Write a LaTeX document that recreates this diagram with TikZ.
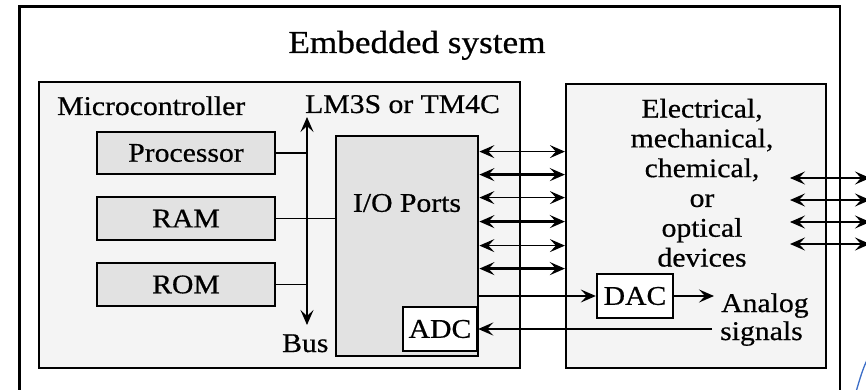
\documentclass[tikz,border=0pt]{standalone}
\usepackage{fontspec}
\setmainfont{Liberation Serif}[FakeStretch=1.1,FakeBold=0.6]
\usetikzlibrary{arrows.meta,calc}
\definecolor{boxgray}{HTML}{E2E2E2}
\definecolor{panel}{HTML}{F4F4F4}
\definecolor{bluearc}{RGB}{60,110,200}
\begin{document}
\begin{tikzpicture}[x=1pt,y=-1pt,
  >={Stealth[length=15pt,width=13pt,inset=6pt]},
  lbl/.style={font=\fontsize{27}{30}\selectfont, inner sep=0pt},
  gbox/.style={draw, line width=2.4pt, fill=boxgray, inner sep=0pt, font=\fontsize{27}{30}\selectfont},
  wbox/.style={draw, line width=2.4pt, fill=white, inner sep=0pt, font=\fontsize{27}{30}\selectfont},
  panelbox/.style={draw, line width=2.2pt, fill=panel, inner sep=0pt}]
\fill[white] (0,0) rectangle (866,390);
\useasboundingbox (0,0) rectangle (866,390);
% outer frame
\draw[line width=3pt] (19,400) -- (19,7) -- (841,7);
\draw[line width=1.2pt] (840,7) -- (840,400);
\node[font=\fontsize{32}{36}\selectfont, inner sep=0pt, anchor=base] (title) at (417,53) {Embedded system};
% panels
\node[panelbox, minimum width=481pt, minimum height=286pt] (mcu) at (279.5,225) {};
\node[panelbox, minimum width=260pt, minimum height=284pt] (dev) at (696,226) {};
\node[lbl, anchor=base west] (mcul) at (57,115) {Microcontroller};
\node[lbl, anchor=base west] (lml) at (305,113) {LM3S or TM4C};
% memory boxes
\node[gbox, minimum width=178pt, minimum height=42pt] (proc) at (186,153) {Processor};
\node[gbox, minimum width=178pt, minimum height=43pt] (ram) at (186,218.5) {RAM};
\node[gbox, minimum width=178pt, minimum height=43pt] (rom) at (186,284.5) {ROM};
% I/O ports
\node[gbox, line width=2.8pt, minimum width=142pt, minimum height=220pt] (io) at (407,246) {};
\node[lbl] (iol) at (407,203) {I/O Ports};
\node[wbox, minimum width=74pt, minimum height=44pt] (adc) at (440,329) {ADC};
% bus
\coordinate (busT) at (307,117);
\coordinate (busB) at (307,325);
\draw[<->, line width=1.4pt] (busT) -- (busB);
\node[lbl, anchor=base west] (busl) at (282,352) {Bus};
\draw[line width=2.4pt] (proc.east) -- (proc.east -| busT);
\draw[line width=1.3pt] (ram.east) -- (ram.east -| io.west);
\draw[line width=1.8pt] (rom.east) -- (rom.east -| busT);
% port arrows
\foreach \dy/\w in {17/1.1, 40/2.6, 63/1.1, 87/2.6, 111/1.1, 134/2.6}
  \draw[<->, line width=\w pt] ([yshift=-\dy pt]io.north east) -- ([yshift=-\dy pt]io.north east -| dev.west);
% devices text
\node[font=\fontsize{27}{29.8}\selectfont, inner sep=0pt, align=center, anchor=north] (devl) at (702,98.6)
  {Electrical,\\mechanical,\\chemical,\\or\\optical\\devices};
% right side arrows
\foreach \yy/\w in {178/1.1, 200/2.6, 222/1.1, 244/2.6} {
  \coordinate (rl\yy) at (790,\yy);
  \coordinate (rr\yy) at (870,\yy);
  \draw[<->, line width=\w pt] (rl\yy) -- (rr\yy);
}
% DAC
\node[wbox, minimum width=76pt, minimum height=44pt] (dac) at (635,296) {DAC};
\draw[->, line width=1.1pt] (io.east |- dac.west) -- (dac.west);
\coordinate (aout) at (714,296);
\draw[->, line width=2.4pt] (dac.east) -- (aout);
\node[lbl, anchor=base west] (ana1) at (721,312) {Analog};
\node[lbl, anchor=base west] (ana2) at (720,340) {signals};
\coordinate (ain) at (712,329);
\draw[->, line width=2.4pt] (ain) -- (ain -| adc.east);
% blue stroke at corner
\draw[line width=1.3pt, bluearc] (856,392) .. controls (860,378) and (863,368) .. (868,358);
\end{tikzpicture}
\end{document}
